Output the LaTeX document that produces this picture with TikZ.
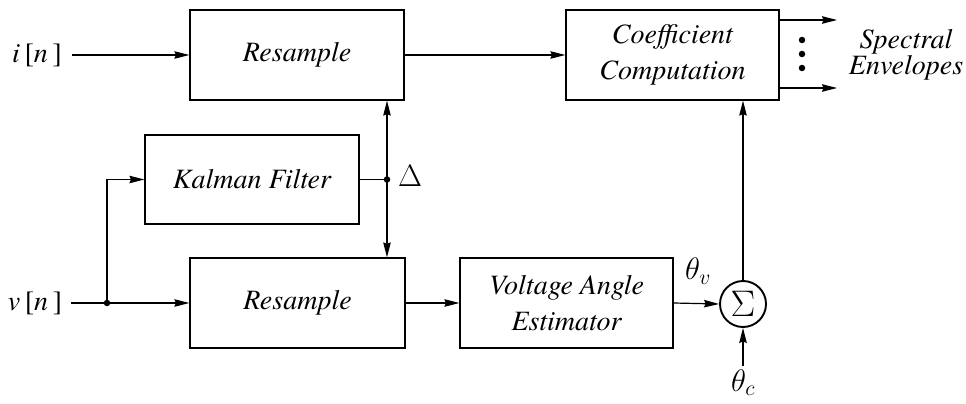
\documentclass[tikz,border=0pt]{standalone}
\usepackage{fix-cm}
\usepackage{fontspec}
\IfFontExistsTF{texgyretermes-regular.otf}
  {\setmainfont{texgyretermes-regular.otf}[ItalicFont=texgyretermes-italic.otf,BoldFont=texgyretermes-bold.otf]}
  {\setmainfont{Liberation Serif}}
\usetikzlibrary{arrows.meta}
\begin{document}
\begin{tikzpicture}[x=1pt,y=-1pt,
  blk/.style={draw,line width=1.2pt,minimum height=90pt,inner sep=0pt,align=center,
    font=\fontsize{28}{36}\selectfont\itshape},
  lbl/.style={inner sep=0pt,font=\fontsize{28}{24}\selectfont},
  mlbl/.style={inner sep=0pt,font=\fontsize{31}{31}\selectfont},
  arr/.style={line width=1.2pt,-{Stealth[length=15pt,width=7.5pt,inset=1.5pt]}},
  ln/.style={line width=1.2pt},
  dotm/.style={circle,fill,inner sep=0pt,minimum size=6.5pt}]
\useasboundingbox (0,0) rectangle (966,404);
% blocks
\node[blk,minimum width=214pt] (rs1) at (297,55) {Resample};
\node[blk,minimum width=213pt] (coeff) at (672.5,55) {Coefficient\\Computation};
\node[blk,minimum width=214pt,minimum height=89pt] (kal) at (252,179.5) {Kalman Filter};
\node[blk,minimum width=215pt] (rs2) at (297.5,303) {Resample};
\node[blk,minimum width=213pt] (vae) at (566.5,303) {Voltage Angle\\Estimator};
\node[circle,draw,line width=1.9pt,minimum size=46pt,inner sep=0pt,
      font=\fontsize{37}{37}\selectfont] (sum) at (743,304) {$\Sigma$};
% labels
\node[lbl] (in) at (37,55) {\textit{i}\,[\textit{n}\,]};
\node[lbl] (vn) at (35,303) {\textit{v}\,[\textit{n}\,]};
\node[mlbl] (delta) at (410,176) {$\Delta$};
\node[mlbl] (thv) at (698,271) {$\theta_v$};
\node[mlbl,anchor=south] (thc) at (743,396) {$\theta_c$};
\node[lbl,align=center,font=\fontsize{28}{24}\selectfont\itshape] (spec) at (906,55) {Spectral\\Envelopes};
% coordinates
\coordinate (iin) at (72,55);
\coordinate (vin) at (71,303);
\coordinate (vj) at (107,303);
\coordinate (dj) at (387,179.5);
\coordinate (cin) at (743,366);
\coordinate (o1) at (837,20);
\coordinate (o2) at (837,88);
% connectors
\draw[arr] (iin) -- (rs1.west);
\draw[arr] (rs1.east) -- (coeff.west);
\draw[arr] (vin) -- (rs2.west);
\draw[arr] (vj) |- (kal.west);
\node[dotm] at (vj) {};
\draw[ln] (kal.east) -- (dj);
\draw[arr] (dj) -- (dj |- rs1.south);
\draw[arr] (dj) -- (dj |- rs2.north);
\node[dotm] at (dj) {};
\draw[arr] (rs2.east) -- (vae.west);
\draw[arr] (vae.east) -- (sum.west);
\draw[arr] (cin) -- (sum.south);
\draw[arr] (sum.north) -- (sum.north |- coeff.south);
\draw[arr] (coeff.east |- o1) -- (o1);
\draw[arr] (coeff.east |- o2) -- (o2);
\node[dotm] at (802,40) {};
\node[dotm] at (802,54) {};
\node[dotm] at (802,68) {};
\end{tikzpicture}
\end{document}
